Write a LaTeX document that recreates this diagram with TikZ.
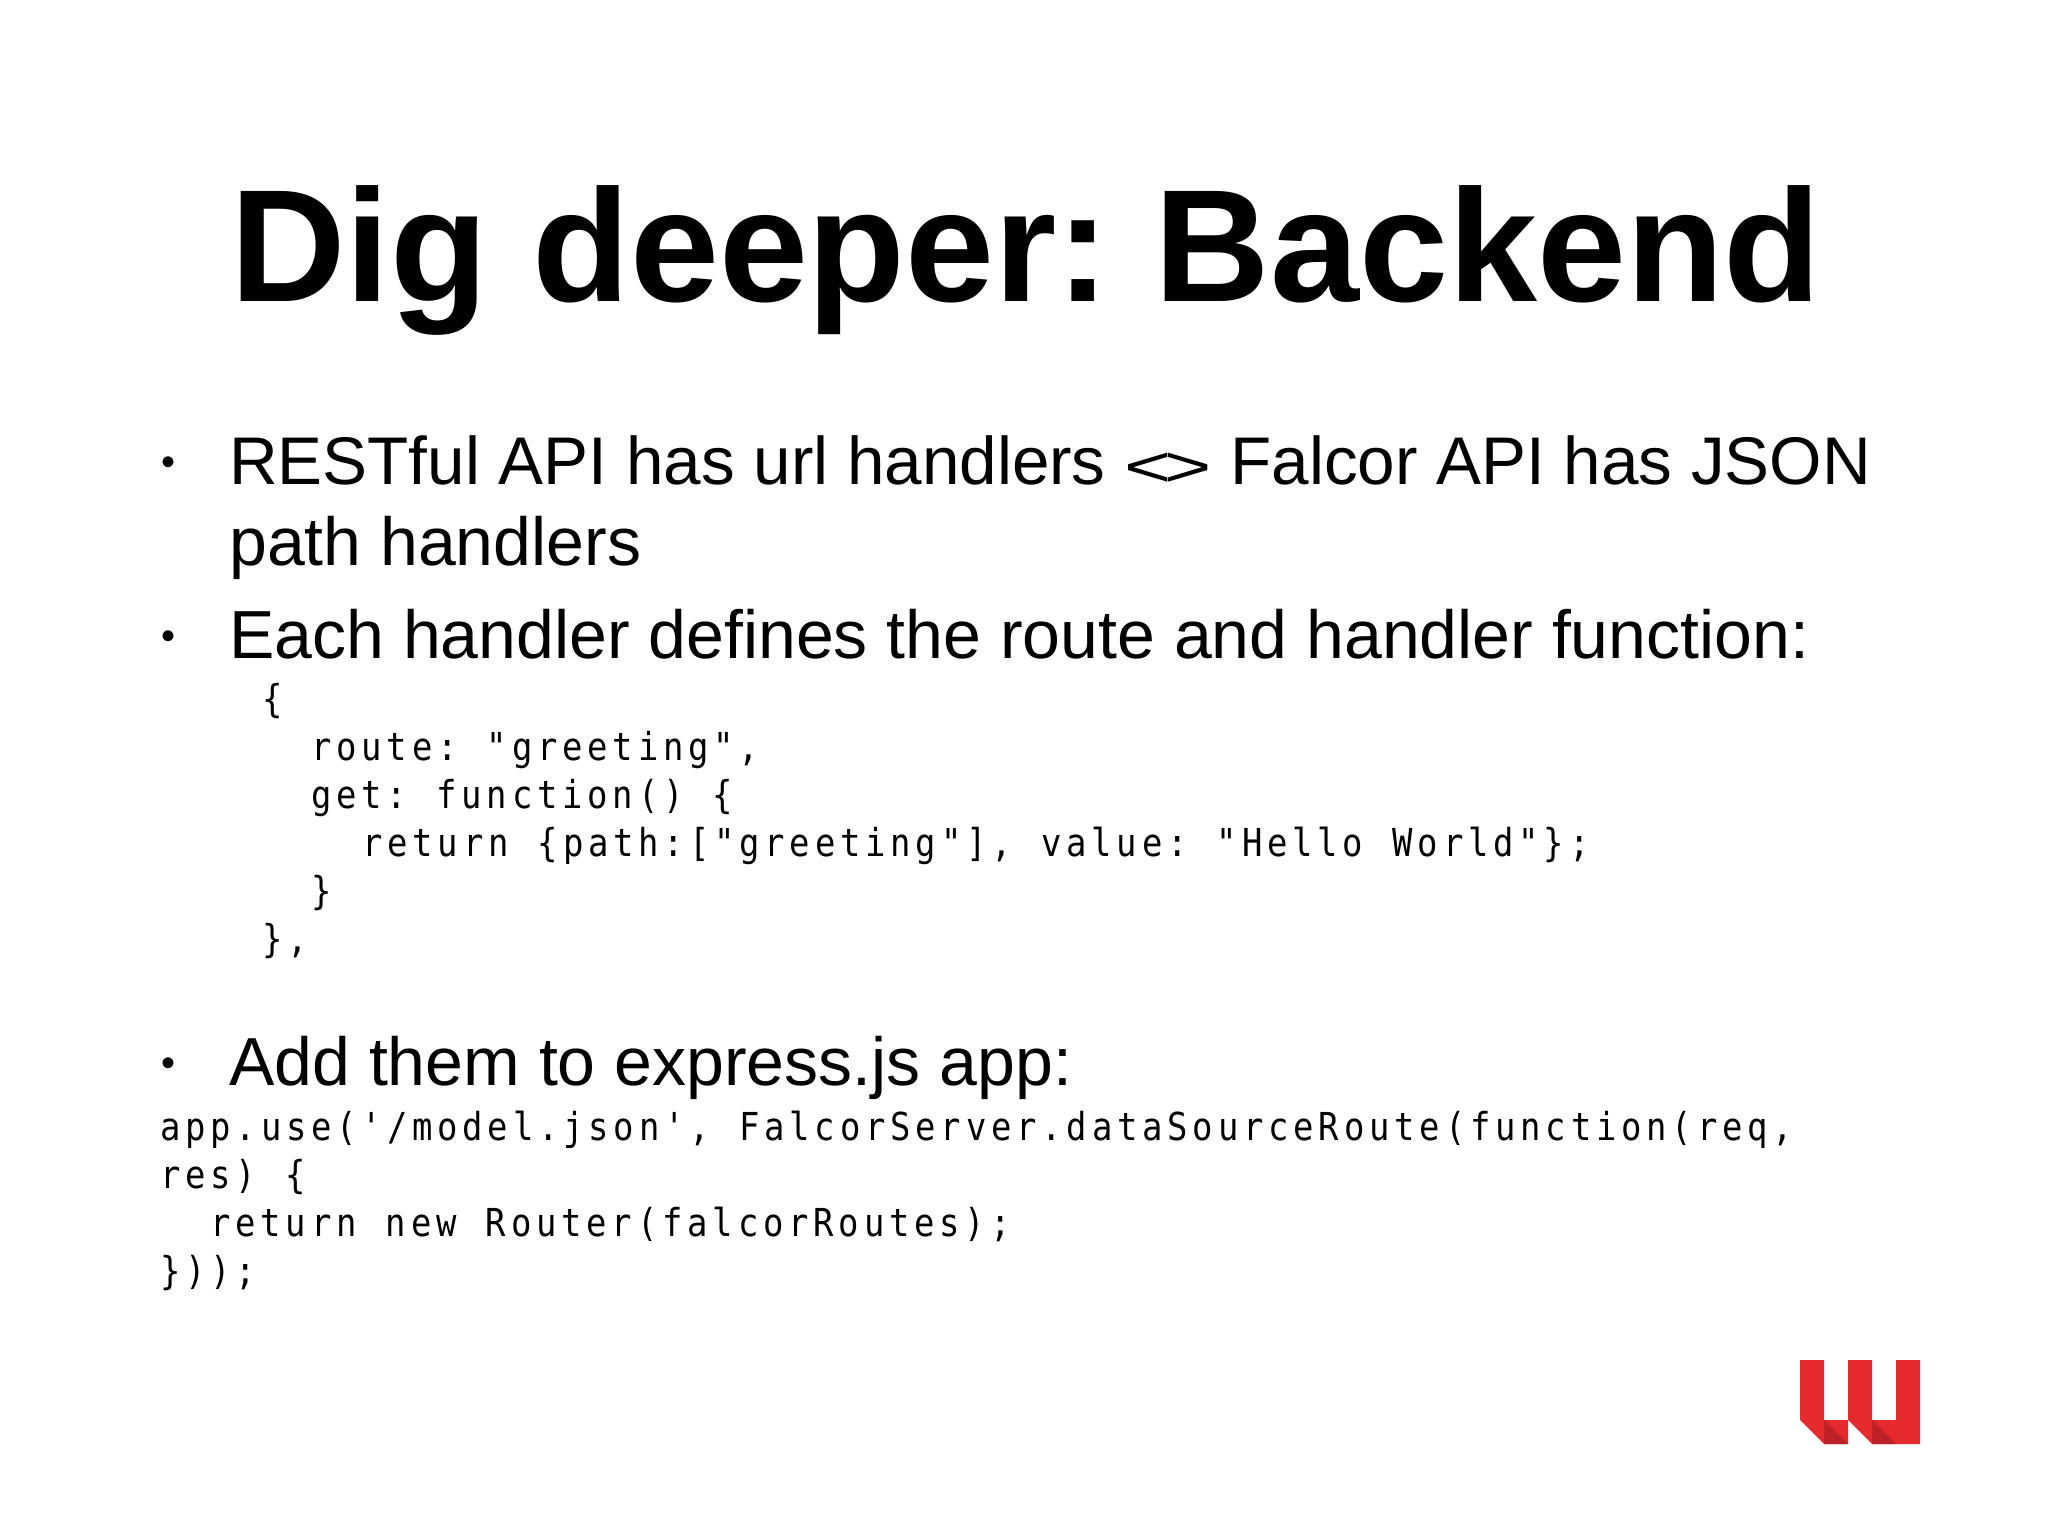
\documentclass[tikz,border=0pt]{standalone}
\usepackage{fontspec}
\setmainfont{Liberation Sans}
\newfontfamily\codefont[FakeStretch=0.88,LetterSpace=12.5,WordSpace=1.16]{DejaVu Sans Mono}
\usetikzlibrary{positioning}
\definecolor{logored}{HTML}{E42A2D}
\definecolor{logodark}{HTML}{BE2226}
\newcommand{\diffsign}{\raisebox{-2pt}{\scalebox{1.2}[0.85]{<\kern-6pt>}}}
\tikzset{
	heading/.style={anchor=base,inner sep=0pt,font=\fontsize{160}{160}\selectfont\bfseries\frenchspacing},
	item/.style={anchor=base west,inner sep=0pt,font=\fontsize{68}{68}\selectfont\frenchspacing},
	dot/.style={anchor=center,inner sep=0pt,font=\fontsize{40}{40}\selectfont},
	code/.style={anchor=base west,inner sep=0pt,font=\fontsize{38.5}{38.5}\codefont\frenchspacing}
}
\begin{document}
\begin{tikzpicture}[x=1pt,y=-1pt]
	\useasboundingbox (0,0) rectangle (2048,1536);
	\fill[white] (0,0) rectangle (2048,1536);
	
	\node[heading] (title) at (1026,301) {Dig deeper: Backend};
	
	\node[dot] (b_1) at (168,466) {•};
	\node[item,font=\fontsize{67.4}{68}\selectfont] (rest_1) at (229,484) {RESTful API has url handlers \diffsign{} Falcor API has JSON};
	\node[item] (rest_2) at (229,565) {path handlers};
	\node[dot] (b_2) at (168,640) {•};
	\node[item] (each) at (229,658) {Each handler defines the route and handler function:};
	
	\node[code] (h_1) at (262,712) {\{};
	\node[code] (h_2) at (311,760) {route: "greeting",};
	\node[code] (h_3) at (311,808) {get: function() \{};
	\node[code] (h_4) at (362,856) {return \{path:["greeting"], value: "Hello World"\};};
	\node[code] (h_5) at (311,904) {\}};
	\node[code] (h_6) at (262,952) {\},};
	
	\node[dot] (b_3) at (168,1067) {•};
	\node[item] (add) at (229,1085) {Add them to express.js app:};
	
	\node[code] (a_1) at (160,1140) {app.use('/model.json', FalcorServer.dataSourceRoute(function(req,};
	\node[code] (a_2) at (160,1188) {res) \{};
	\node[code] (a_3) at (210,1236) {return new Router(falcorRoutes);};
	\node[code] (a_4) at (160,1284) {\}));};
	
	% logo
	\fill[logored] (1800,1360) -- (1824,1360) -- (1824,1420) -- (1848,1420) -- (1848,1444) -- (1824,1444) -- (1800,1420) -- cycle;
	\fill[logored] (1848,1360) -- (1872,1360) -- (1872,1420) -- (1896,1420) -- (1896,1360) -- (1920,1360) -- (1920,1444) -- (1872,1444) -- (1848,1420) -- cycle;
	\fill[logodark] (1824,1420) -- (1848,1444) -- (1824,1444) -- cycle;
	\fill[logodark] (1872,1420) -- (1896,1444) -- (1872,1444) -- cycle;
\end{tikzpicture}
\end{document}
